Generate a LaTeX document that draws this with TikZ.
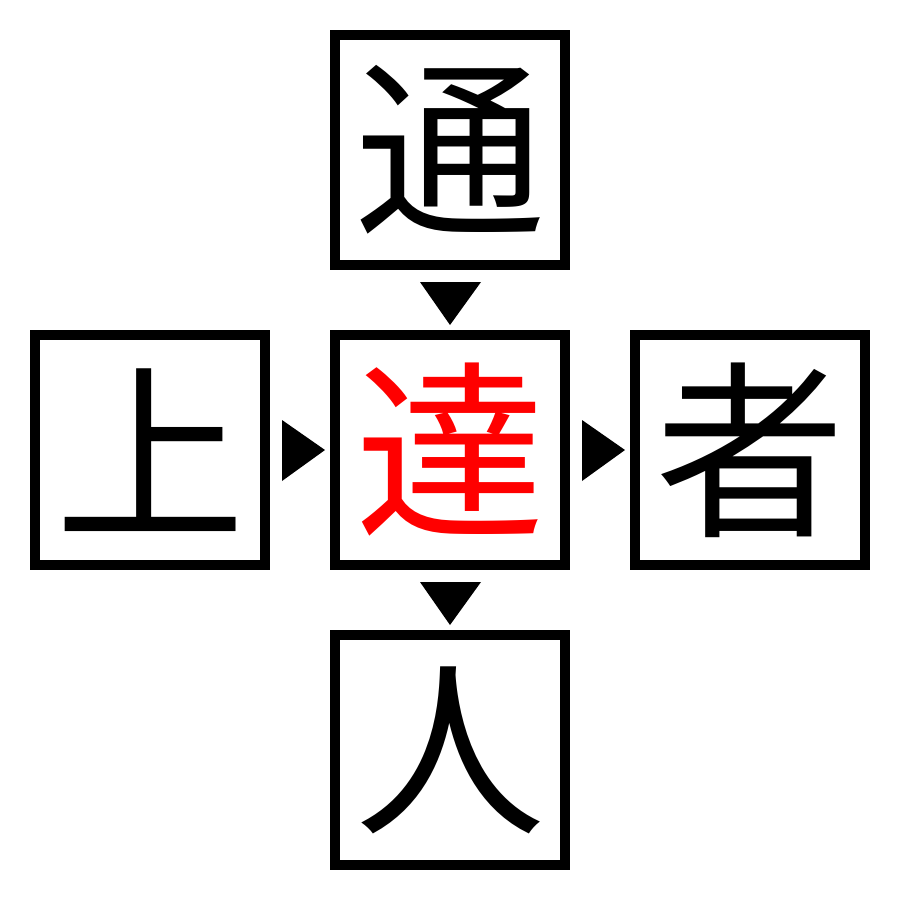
\documentclass[tikz,border=0pt]{standalone}
\usepackage{fontspec}
\newfontfamily\cjk{Noto Sans CJK JP}
\usetikzlibrary{calc}
\begin{document}
\begin{tikzpicture}[x=1pt,y=-1pt,
  charbox/.style={draw=black,line width=10pt,minimum size=230pt,inner sep=0pt,
    font=\cjk\fontsize{190}{190}\selectfont},
  tri/.style={fill=black}]
\useasboundingbox (0,0) rectangle (900,900);
\fill[white] (0,0) rectangle (900,900);
\node[charbox] (top) at (450,150) {通};
\node[charbox,text=red] (mid) at (450,450) {達};
\node[charbox] (left) at (150,450) {上};
\node[charbox] (right) at (750,450) {者};
\node[charbox] (bot) at (450,750) {人};
% arrowheads between boxes
\fill[tri] ($(top.south)+(-30,12)$) -- ($(top.south)+(31,12)$) -- ($(mid.north)+(0,-5)$) -- cycle;
\fill[tri] ($(mid.south)+(-30,12)$) -- ($(mid.south)+(31,12)$) -- ($(bot.north)+(0,-5)$) -- cycle;
\fill[tri] ($(left.east)+(12,-30)$) -- ($(left.east)+(12,31)$) -- ($(mid.west)+(-5,0)$) -- cycle;
\fill[tri] ($(mid.east)+(12,-30)$) -- ($(mid.east)+(12,31)$) -- ($(right.west)+(-5,0)$) -- cycle;
\end{tikzpicture}
\end{document}
